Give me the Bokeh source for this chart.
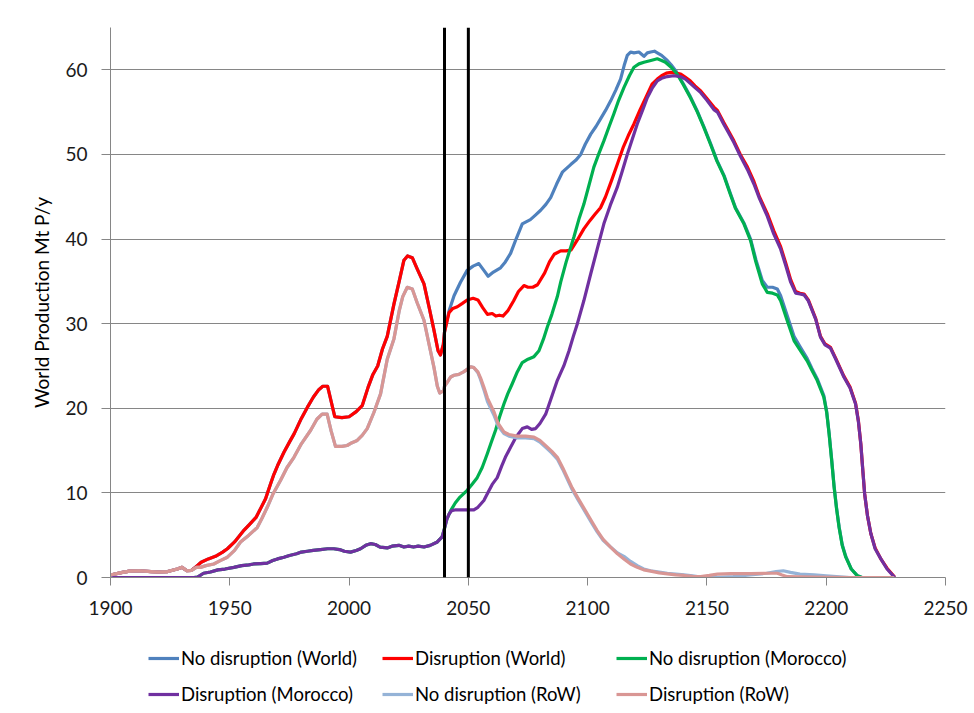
from bokeh.plotting import figure
from bokeh.models import FixedTicker, Span, Legend, LegendItem
from bokeh.layouts import column
from bokeh.embed import file_html
from bokeh.resources import INLINE

# --- Historical production (Mt P/y), shared by both scenarios up to 2040 ---
hist_years_world = [1900, 1905, 1908, 1912, 1917, 1920, 1924, 1928, 1930, 1932, 1934, 1936,
                    1938, 1941, 1944, 1947, 1949, 1952, 1956, 1958, 1961, 1963, 1965, 1967,
                    1968.5, 1970, 1972.7, 1975, 1977, 1980, 1982.5, 1985, 1987.3, 1989, 1991,
                    1992.5, 1994, 1997, 2000, 2003, 2005.5, 2008, 2010, 2012, 2014, 2016,
                    2018.8, 2021, 2023, 2024.5, 2026.5, 2028.5, 2031.4, 2033.5, 2035.6,
                    2037.3, 2038.3, 2039.5, 2040]
hist_world = [0.3, 0.6, 0.75, 0.8, 0.7, 0.65, 0.7, 1.0, 1.2, 0.8, 0.85, 1.3,
              1.8, 2.2, 2.5, 3.0, 3.4, 4.2, 5.6, 6.2, 7.1, 8.2, 9.3, 11.0,
              12.2, 13.2, 14.8, 16.0, 17.0, 18.8, 20.1, 21.3, 22.2, 22.6, 22.6,
              20.8, 19.0, 18.9, 19.0, 19.6, 20.3, 22.5, 24.0, 25.0, 27.0, 28.5,
              32.3, 35.0, 37.5, 38.0, 37.8, 36.5, 34.7, 32.0, 29.2,
              26.8, 26.3, 27.5, 29.0]

hist_years_morocco = [1900, 1935, 1936.5, 1939, 1941.9, 1945, 1948, 1951.7, 1955, 1958, 1960,
                      1963, 1965.7, 1968, 1970, 1972.7, 1975, 1978, 1980, 1982.5, 1985, 1988,
                      1991, 1993.6, 1996, 1998, 2000.6, 2003, 2004.8, 2007, 2009, 2011, 2013,
                      2016, 2018, 2020.9, 2023, 2025, 2027, 2029, 2031.4, 2034, 2037, 2039, 2040]
hist_morocco = [0.0, 0.0, 0.05, 0.5, 0.65, 0.9, 1.0, 1.2, 1.4, 1.5, 1.6,
                1.65, 1.7, 2.0, 2.2, 2.4, 2.6, 2.8, 3.0, 3.1, 3.2, 3.3,
                3.4, 3.4, 3.3, 3.1, 3.0, 3.2, 3.4, 3.8, 4.0, 3.9, 3.6,
                3.5, 3.7, 3.8, 3.6, 3.7, 3.6, 3.7, 3.6, 3.8, 4.2, 4.8, 5.8]

hist_years_row = [1900, 1905, 1908, 1912, 1917, 1920, 1924, 1928, 1930, 1932, 1934, 1936,
                  1937.7, 1940, 1943.3, 1946, 1949, 1952, 1954.5, 1958, 1961.5, 1963.5,
                  1965.7, 1968, 1971.3, 1974, 1976.9, 1980, 1983.9, 1986.5, 1988.7, 1990.8,
                  1992.5, 1994.3, 1997, 1999.2, 2001, 2003.4, 2005.5, 2007.6, 2010.4, 2013.2,
                  2016, 2018.8, 2021, 2022.5, 2024.4, 2026.5, 2028.5, 2031.4, 2033.5, 2035.6,
                  2037, 2038, 2039.7, 2040]
hist_row = [0.3, 0.6, 0.75, 0.8, 0.7, 0.65, 0.7, 1.0, 1.2, 0.8, 0.85, 1.2,
            1.2, 1.4, 1.6, 2.0, 2.4, 3.2, 4.2, 5.0, 5.9, 7.0,
            8.3, 9.8, 11.5, 13.0, 14.2, 15.8, 17.4, 18.7, 19.3, 19.3,
            17.3, 15.5, 15.5, 15.6, 15.9, 16.2, 16.8, 17.6, 19.5, 21.7,
            25.8, 28.2, 31.5, 33.2, 34.3, 34.1, 32.5, 30.4, 27.6, 24.8,
            22.6, 21.8, 22.1, 22.6]

# --- Scenario projections from 2040 ---
nodis_world_years = [2041.9, 2044, 2046.7, 2049.5, 2052, 2054.4, 2056.5, 2058.3, 2060.5, 2063.5,
                     2065.5, 2067.7, 2070, 2072.6, 2076, 2078, 2080.3, 2082.5, 2084.5, 2087,
                     2089.4, 2092.9, 2095, 2097.1, 2099, 2101.3, 2103.5, 2105.4, 2107.5, 2109.6,
                     2111.8, 2113.8, 2115.3, 2116.6, 2118, 2119.4, 2121.5, 2123.6, 2125, 2126.4,
                     2128, 2129.2, 2131, 2133.4, 2135, 2136.9, 2140, 2143.1, 2146, 2148.7,
                     2151.5, 2154.2, 2157.2, 2159.8, 2162, 2165.5, 2168.3, 2170.5, 2173.2,
                     2175.3, 2177.5, 2179.5, 2180.9, 2183.6, 2186.5, 2189, 2192, 2194, 2196.2,
                     2199, 2200.2, 2201.2, 2202.3, 2203.3, 2204.3, 2205.4, 2206.7, 2208.2,
                     2210.5, 2213.1, 2215, 2228]
nodis_world = [31.5, 33.3, 34.9, 36.3, 36.8, 37.1, 36.3, 35.6, 36.1, 36.6,
               37.3, 38.3, 40.0, 41.8, 42.3, 42.8, 43.4, 44.1, 44.9, 46.5,
               47.9, 48.8, 49.3, 50.0, 51.2, 52.4, 53.3, 54.2, 55.2, 56.3,
               57.6, 58.9, 60.5, 61.7, 62.1, 62.0, 62.1, 61.6, 62.0, 62.1,
               62.2, 62.0, 61.7, 61.1, 60.6, 59.9, 58.4, 56.8, 55.1, 53.3,
               51.3, 49.3, 47.5, 45.4, 43.7, 41.9, 40.0, 37.6, 35.1,
               34.3, 34.3, 34.1, 33.3, 31.0, 28.5, 27.3, 25.9, 24.7, 23.5,
               21.5, 19.6, 17.1, 13.9, 10.8, 8.3, 6.0, 3.9, 2.5,
               1.0, 0.2, 0.0, 0.0]

dis_world_years = [2041.9, 2043.5, 2045.4, 2047.5, 2049.5, 2052, 2054, 2056, 2058, 2060, 2061.5,
                   2063, 2064.5, 2066.5, 2069, 2071, 2073.3, 2075, 2077, 2079, 2082, 2084, 2086,
                   2088.7, 2091, 2093, 2095.5, 2098.4, 2101, 2103, 2105.4, 2107.5, 2110, 2112.4,
                   2115, 2117, 2119.4, 2122, 2125, 2127, 2129.2, 2131, 2133, 2135, 2137, 2139,
                   2141, 2143, 2145, 2147.4, 2150, 2152.9, 2154.4, 2157, 2159, 2161.3, 2164,
                   2167, 2169.7, 2172, 2175.3, 2178, 2180.9, 2183, 2185.1, 2187.2, 2189,
                   2190.7, 2192.5, 2195.6, 2197.6, 2199.5, 2201.8, 2204, 2207.4, 2210, 2212.3,
                   2213.5, 2214.5, 2215.3, 2216.1, 2217.3, 2218.7, 2220.5, 2222.9, 2225.5,
                   2228.4]
dis_world = [31.3, 31.8, 32.0, 32.4, 32.8, 33.0, 32.8, 31.9, 31.1, 31.2, 30.9,
             31.0, 30.9, 31.5, 32.7, 33.8, 34.5, 34.3, 34.3, 34.6, 36.0, 37.3, 38.2,
             38.6, 38.6, 38.7, 39.8, 41.2, 42.2, 42.9, 43.7, 45.0, 46.9, 48.8,
             50.9, 52.2, 53.6, 55.3, 57.1, 58.3, 58.9, 59.3, 59.6, 59.7, 59.6, 59.5,
             59.1, 58.7, 58.1, 57.5, 56.6, 55.6, 55.2, 53.8, 52.8, 51.6, 50.0,
             48.5, 46.8, 45.0, 43.0, 41.0, 39.1, 37.2, 35.2, 33.8, 33.6,
             33.5, 32.8, 30.6, 28.5, 27.6, 27.2, 25.9, 23.8, 22.5, 20.6,
             18.5, 15.8, 12.8, 9.9, 7.3, 5.2, 3.5, 2.2, 1.1,
             0.15]

nodis_morocco_years = [2041, 2042.6, 2044.5, 2046.5, 2049.5, 2051.5, 2053.7, 2055.8, 2057.9,
                       2059.5, 2061.4, 2063, 2064.9, 2066.5, 2068.4, 2070.5, 2072.6, 2075,
                       2077.5, 2079.6, 2081.5, 2083.1, 2085, 2087.3, 2088.7, 2091, 2094.3,
                       2096.5, 2098.4, 2100.5, 2102.6, 2104.7, 2106.8, 2109, 2111, 2113,
                       2115.2, 2117.5, 2119.4, 2121.5, 2123.6, 2126.5, 2129.2, 2131, 2132.6,
                       2135, 2137.5, 2140, 2143.1, 2146, 2148.7, 2151.5, 2154.2, 2157.2,
                       2159.8, 2162, 2165.5, 2168.3, 2170.5, 2173.2, 2175.3, 2177.5, 2179.5,
                       2180.9, 2183.6, 2186.5, 2189, 2192, 2194, 2196.2, 2199, 2200.2, 2201.2,
                       2202.3, 2203.3, 2204.3, 2205.4, 2206.7, 2208.2, 2210.5, 2213.1, 2215,
                       2228]
nodis_morocco = [6.9, 7.9, 8.8, 9.5, 10.3, 11.0, 11.8, 13.0, 14.6,
                 15.9, 17.4, 18.9, 20.5, 21.7, 22.9, 24.3, 25.4, 25.8,
                 26.1, 26.8, 28.2, 29.6, 31.1, 33.2, 34.9, 37.3, 40.3,
                 42.5, 44.1, 46.3, 48.5, 50.1, 51.6, 53.3, 54.8, 56.4,
                 57.9, 59.3, 60.3, 60.7, 60.9, 61.1, 61.3, 61.1, 60.9,
                 60.3, 59.5, 58.3, 56.7, 55.0, 53.2, 51.2, 49.2, 47.4,
                 45.3, 43.6, 41.8, 39.8, 37.3, 34.7, 33.7, 33.6, 33.4,
                 32.7, 30.4, 28.0, 26.9, 25.6, 24.5, 23.3, 21.3, 19.5, 17.0,
                 13.8, 10.7, 8.2, 5.9, 3.8, 2.4, 1.0, 0.2, 0.0,
                 0.0]

dis_morocco_years = [2041, 2041.9, 2043, 2044.7, 2048, 2050, 2052.3, 2054, 2056.5, 2058.5, 2060,
                     2062.1, 2064, 2065.5, 2067.7, 2070, 2072.6, 2074.7, 2076.5, 2078.2, 2080,
                     2082.4, 2084.5, 2087.3, 2090, 2092.2, 2094, 2095.7, 2098.4, 2101.3, 2104,
                     2106.8, 2109.5, 2112.4, 2114.5, 2116.6, 2118.7, 2120.8, 2123, 2125, 2127,
                     2129.2, 2131, 2133.4, 2136, 2139, 2141, 2143, 2145, 2147.4, 2150, 2152.9,
                     2154.4, 2157, 2159, 2161.3, 2164, 2167, 2169.7, 2172, 2175.3, 2178,
                     2180.9, 2183, 2185.1, 2187.2, 2189, 2190.7, 2192.5, 2195.6, 2197.6,
                     2199.5, 2201.8, 2204, 2207.4, 2210, 2212.3, 2213.5, 2214.5, 2215.3,
                     2216.1, 2217.3, 2218.7, 2220.5, 2222.9, 2225.5, 2228.4]
dis_morocco = [6.9, 7.5, 7.9, 8.0, 8.0, 8.0, 8.0, 8.3, 9.1, 10.2, 11.0,
               11.8, 13.2, 14.2, 15.4, 16.6, 17.6, 17.8, 17.5, 17.6, 18.2,
               19.3, 21.0, 23.3, 25.0, 26.8, 28.5, 30.0, 32.7, 35.9, 38.8,
               41.8, 44.0, 46.1, 48.0, 50.0, 51.8, 53.6, 55.2, 56.7, 57.8,
               58.7, 59.0, 59.2, 59.3, 59.2, 58.9, 58.4, 57.9, 57.3, 56.4, 55.3,
               55.0, 53.6, 52.6, 51.4, 49.8, 48.2, 46.5, 44.8, 42.7, 40.6,
               38.8, 36.9, 34.9, 33.6, 33.5, 33.4, 32.7, 30.5, 28.4,
               27.5, 27.1, 25.8, 23.7, 22.4, 20.5, 18.4, 15.8, 12.8,
               9.9, 7.3, 5.2, 3.4, 2.2, 1.0, 0.1]

nodis_row_years = [2041, 2042.6, 2044, 2046, 2048, 2049.5, 2051, 2052.3, 2054, 2055.1, 2056.5,
                   2058, 2060.7, 2062.5, 2064.9, 2067, 2070.5, 2074, 2077.5, 2080, 2083.1,
                   2085, 2087.3, 2089.5, 2091.5, 2093.5, 2095.7, 2097.8, 2099.9, 2102, 2104,
                   2106.5, 2109.6, 2112.5, 2115.2, 2118, 2120.8, 2123.5, 2126.4, 2130, 2133.4,
                   2137, 2140.4, 2144, 2147.4, 2153, 2161, 2168, 2175, 2179, 2182, 2185,
                   2189, 2195, 2200, 2210, 2228]
nodis_row = [23.0, 23.7, 23.9, 24.0, 24.3, 24.6, 24.9, 24.8, 24.2, 23.4, 22.2,
             20.8, 19.2, 17.9, 17.0, 16.7, 16.5, 16.5, 16.4, 16.0, 15.2,
             14.7, 14.0, 12.8, 11.6, 10.4, 9.3, 8.3, 7.3, 6.3, 5.4,
             4.4, 3.6, 2.9, 2.5, 1.9, 1.4, 1.0, 0.8, 0.65, 0.5,
             0.4, 0.3, 0.2, 0.05, 0.0, 0.1, 0.3, 0.5, 0.7, 0.8, 0.6,
             0.4, 0.3, 0.2, 0.0, 0.0]

dis_row_years = [2041, 2042.6, 2044, 2046, 2048, 2049.5, 2051, 2052.3, 2054, 2055.1, 2056.5,
                 2058, 2060.7, 2062.5, 2064.9, 2067, 2070.5, 2074, 2077.5, 2080, 2083.1,
                 2085, 2087.3, 2089.5, 2091.5, 2093.5, 2095.7, 2097.8, 2099.9, 2102, 2104,
                 2106.5, 2109.6, 2112.5, 2115.2, 2118, 2120.8, 2123.5, 2126.4, 2130, 2133.4,
                 2137, 2140.4, 2144, 2147.4, 2151, 2154.4, 2160, 2168.3, 2175, 2179.5,
                 2181.5, 2183.7, 2195, 2210, 2228]
dis_row = [23.0, 23.7, 23.9, 24.0, 24.3, 24.6, 24.9, 24.8, 24.3, 23.6, 22.5,
           21.2, 19.6, 18.2, 17.2, 16.9, 16.7, 16.7, 16.6, 16.2, 15.4,
           14.9, 14.2, 13.0, 11.8, 10.6, 9.5, 8.5, 7.5, 6.5, 5.55,
           4.5, 3.6, 2.8, 2.2, 1.6, 1.2, 0.9, 0.75, 0.55, 0.43,
           0.3, 0.24, 0.15, 0.12, 0.25, 0.4, 0.45, 0.45, 0.5, 0.5,
           0.3, 0.1, 0.05, 0.0, 0.0]

scenario_markers = [2040, 2050]
x_ticks = [1900, 1950, 2000, 2050, 2100, 2150, 2200, 2250]
y_ticks = [0, 10, 20, 30, 40, 50, 60]

FONT = "Lato"
W = 974
MAIN_H = 640
LEGEND_H = 713 - MAIN_H
NAN = float("nan")

# ---- main chart ----
p = figure(width=W, height=MAIN_H, x_range=(1900, 2250), y_range=(0, 65),
           output_backend="svg", toolbar_location=None,
           min_border_left=110, min_border_right=29, min_border_top=27,
           min_border_bottom=MAIN_H - 577)
p.outline_line_color = None
p.background_fill_color = "white"
p.border_fill_color = "white"

for ax in (p.xaxis[0], p.yaxis[0]):
    ax.axis_line_color = "#868686"
    ax.major_tick_line_color = "#868686"
    ax.minor_tick_line_color = None
    ax.major_tick_in = 0
    ax.major_label_text_font = FONT
    ax.major_label_text_font_size = "19px"
    ax.major_label_text_color = "#1a1a1a"

p.xaxis.ticker = FixedTicker(ticks=x_ticks)
p.yaxis.ticker = FixedTicker(ticks=y_ticks)
p.xaxis.major_tick_out = 8
p.yaxis.major_tick_out = 9
p.xaxis.major_label_standoff = 15
p.yaxis.major_label_standoff = 14

p.yaxis.axis_label = "World Production Mt P/y"
p.yaxis.axis_label_text_font = FONT
p.yaxis.axis_label_text_font_size = "19px"
p.yaxis.axis_label_text_font_style = "normal"
p.yaxis.axis_label_text_color = "#000000"
p.yaxis.axis_label_standoff = 9

p.xgrid.grid_line_color = None
p.ygrid.grid_line_color = "#868686"
p.ygrid.grid_line_width = 1

series = [
    ("No disruption (World)", hist_years_world + nodis_world_years, hist_world + nodis_world, "#4F81BD"),
    ("Disruption (World)", hist_years_world + dis_world_years, hist_world + dis_world, "#FF0000"),
    ("No disruption (Morocco)", hist_years_morocco + nodis_morocco_years, hist_morocco + nodis_morocco, "#00B050"),
    ("Disruption (Morocco)", hist_years_morocco + dis_morocco_years, hist_morocco + dis_morocco, "#7030A0"),
    ("No disruption (RoW)", hist_years_row + nodis_row_years, hist_row + nodis_row, "#95B3D7"),
    ("Disruption (RoW)", hist_years_row + dis_row_years, hist_row + dis_row, "#D99694"),
]

for name, xs, ys, color in series:
    p.line(xs, ys, line_color=color, line_width=3.2, line_join="round", line_cap="round")

for yr in scenario_markers:
    p.add_layout(Span(location=yr, dimension="height", line_color="black", line_width=3))

# ---- legend strip below the chart (frame aligns with the chart frame) ----
lg = figure(width=W, height=LEGEND_H, x_range=(0, 1), y_range=(0, 1),
            output_backend="svg", toolbar_location=None,
            x_axis_type=None, y_axis_type=None, min_border=0)
lg.outline_line_color = None
lg.grid.grid_line_color = None
lg.background_fill_color = "white"
lg.border_fill_color = "white"

items = []
for name, xs, ys, color in series:
    swatch = lg.line([NAN], [NAN], line_color=color, line_width=3.2)
    items.append(LegendItem(label=name, renderers=[swatch]))

legend = Legend(items=items, location=(38, 8), orientation="horizontal", ncols=3,
                glyph_width=31, glyph_height=20, label_height=20, label_width=187,
                label_standoff=2, spacing=14, padding=0, margin=0,
                border_line_color=None, background_fill_alpha=0,
                label_text_font=FONT, label_text_font_size="18.5px",
                label_text_color="#000000")
lg.add_layout(legend, "center")

page = column(p, lg, spacing=0)
open("out.html", "w").write(file_html(page, INLINE))
